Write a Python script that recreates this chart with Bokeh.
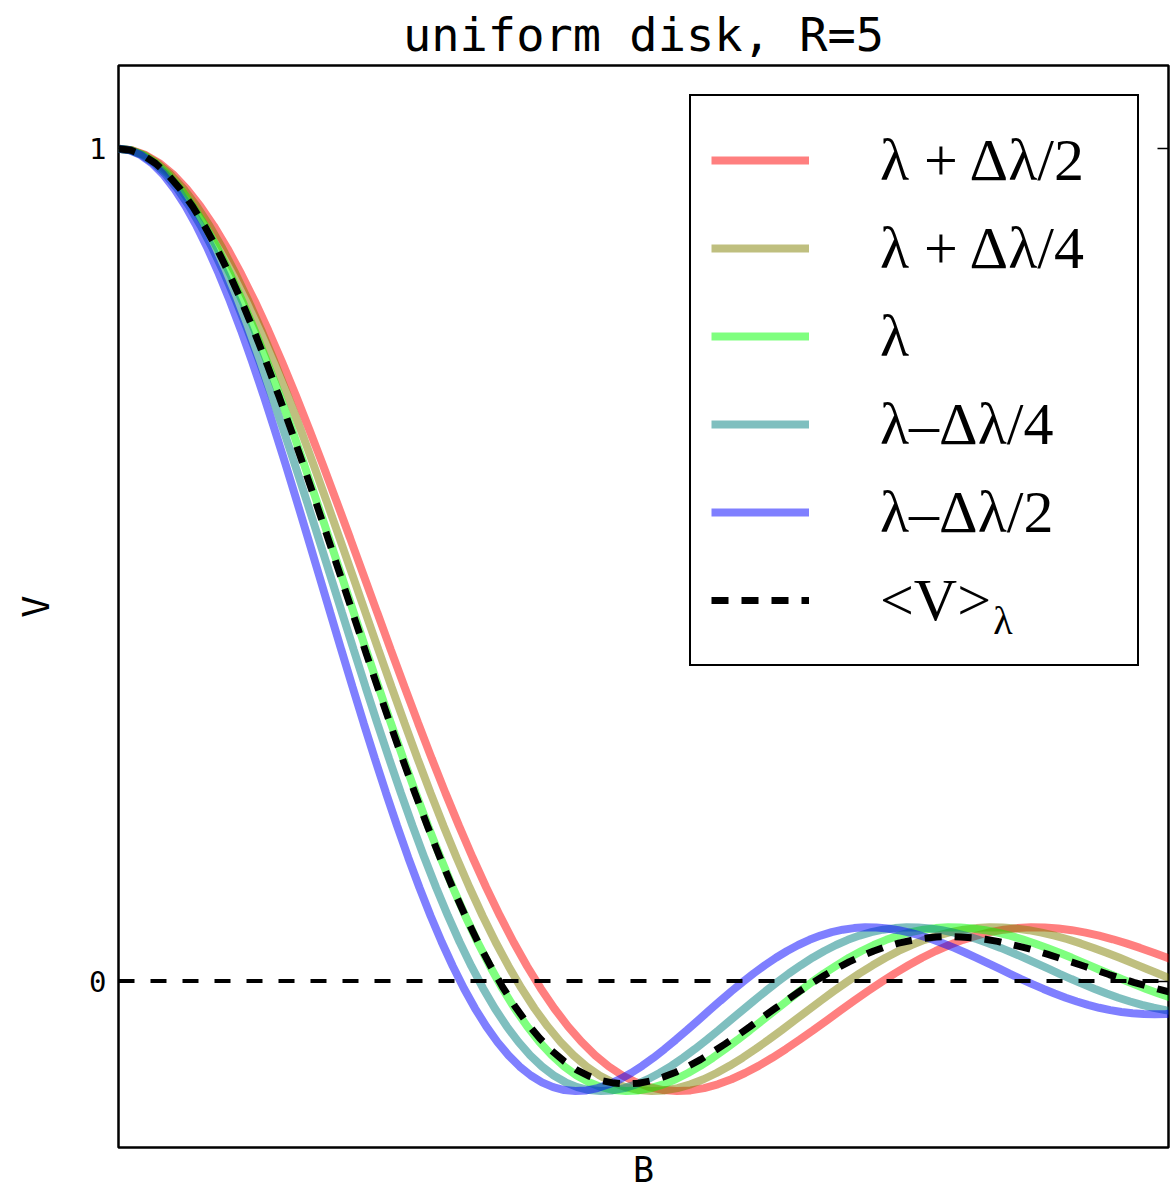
from bokeh.plotting import figure
from bokeh.models import (Range1d, LinearAxis, FixedTicker, Span, Legend,
                          LegendItem, Label)
from bokeh.embed import file_html
from bokeh.resources import INLINE

# ---- data ----
# visibility profile of the central wavelength, on its own baseline axis
profile_arg = [0.0, 0.125, 0.25, 0.375, 0.5, 0.625, 0.75, 0.875,
               1.0, 1.125, 1.25, 1.375, 1.5, 1.625, 1.75, 1.875,
               2.0, 2.125, 2.25, 2.375, 2.5, 2.625, 2.75, 2.875,
               3.0, 3.125, 3.25, 3.375, 3.5, 3.625, 3.75, 3.875,
               4.0, 4.125, 4.25, 4.375, 4.5, 4.625, 4.75, 4.875,
               5.0, 5.125, 5.25, 5.375, 5.5, 5.625, 5.75, 5.875,
               6.0, 6.125, 6.25, 6.375, 6.5, 6.625, 6.75, 6.875,
               7.0, 7.125, 7.25, 7.375, 7.5, 7.625, 7.75, 7.875,
               8.0, 8.125, 8.25, 8.375, 8.5, 8.625, 8.75, 8.875,
               9.0, 9.125, 9.25, 9.375, 9.5, 9.625, 9.75, 9.875,
               10.0, 10.125, 10.25, 10.375, 10.5, 10.625, 10.75, 10.875,
               11.0, 11.125, 11.25, 11.375, 11.5, 11.625, 11.75, 11.875,
               12.0]
v_profile = [1.0000, 0.9981, 0.9923, 0.9826, 0.9692, 0.9520, 0.9313, 0.9073,
             0.8801, 0.8499, 0.8170, 0.7816, 0.7439, 0.7043, 0.6630, 0.6204,
             0.5767, 0.5323, 0.4875, 0.4425, 0.3977, 0.3534, 0.3098, 0.2673,
             0.2261, 0.1864, 0.1484, 0.1124, 0.0785, 0.0469, 0.0178, -0.0089,
             -0.0330, -0.0544, -0.0732, -0.0893, -0.1027, -0.1135, -0.1217, -0.1275,
             -0.1310, -0.1322, -0.1314, -0.1286, -0.1241, -0.1180, -0.1105, -0.1019,
             -0.0922, -0.0817, -0.0706, -0.0591, -0.0473, -0.0355, -0.0238, -0.0123,
             -0.0013, 0.0092, 0.0189, 0.0280, 0.0361, 0.0433, 0.0495, 0.0546,
             0.0587, 0.0617, 0.0636, 0.0645, 0.0643, 0.0632, 0.0611, 0.0582,
             0.0545, 0.0502, 0.0452, 0.0398, 0.0340, 0.0279, 0.0215, 0.0151,
             0.0087, 0.0024, -0.0037, -0.0095, -0.0150, -0.0201, -0.0246, -0.0286,
             -0.0321, -0.0350, -0.0372, -0.0388, -0.0397, -0.0400, -0.0396, -0.0387,
             -0.0372]

series_labels = ["λ + Δλ/2", "λ + Δλ/4", "λ", "λ–Δλ/4", "λ–Δλ/2"]
wavelength_factor = [1.10, 1.05, 1.00, 0.95, 0.90]
series_colors = ["red", "olive", "lime", "teal", "blue"]

b_mean = [0.0, 0.125, 0.25, 0.375, 0.5, 0.625, 0.75, 0.875,
          1.0, 1.125, 1.25, 1.375, 1.5, 1.625, 1.75, 1.875,
          2.0, 2.125, 2.25, 2.375, 2.5, 2.625, 2.75, 2.875,
          3.0, 3.125, 3.25, 3.375, 3.5, 3.625, 3.75, 3.875,
          4.0, 4.125, 4.25, 4.375, 4.5, 4.625, 4.75, 4.875,
          5.0, 5.125, 5.25, 5.375, 5.5, 5.625, 5.75, 5.875,
          6.0, 6.125, 6.25, 6.375, 6.5, 6.625, 6.75, 6.875,
          7.0, 7.125, 7.25, 7.375, 7.5, 7.625, 7.75, 7.875,
          8.0, 8.125, 8.25, 8.375, 8.5, 8.625, 8.75, 8.875,
          9.0, 9.125, 9.25, 9.375, 9.5, 9.625, 9.75, 9.875,
          10.0, 10.125, 10.25, 10.375, 10.5, 10.625]
v_mean = [1.0000, 0.9981, 0.9922, 0.9823, 0.9687, 0.9512, 0.9303, 0.9060,
          0.8785, 0.8479, 0.8147, 0.7789, 0.7409, 0.7010, 0.6595, 0.6166,
          0.5727, 0.5283, 0.4835, 0.4385, 0.3937, 0.3497, 0.3064, 0.2643,
          0.2234, 0.1843, 0.1470, 0.1116, 0.0784, 0.0476, 0.0193, -0.0066,
          -0.0299, -0.0505, -0.0685, -0.0838, -0.0964, -0.1067, -0.1143, -0.1196,
          -0.1226, -0.1237, -0.1228, -0.1199, -0.1153, -0.1096, -0.1025, -0.0944,
          -0.0851, -0.0755, -0.0653, -0.0547, -0.0438, -0.0332, -0.0227, -0.0124,
          -0.0026, 0.0067, 0.0151, 0.0230, 0.0299, 0.0361, 0.0414, 0.0455,
          0.0487, 0.0513, 0.0528, 0.0534, 0.0528, 0.0520, 0.0502, 0.0476,
          0.0442, 0.0408, 0.0368, 0.0323, 0.0275, 0.0228, 0.0178, 0.0128,
          0.0078, 0.0030, -0.0015, -0.0058, -0.0098, -0.0136]

y_ticks = [0, 1]

MONO = "DejaVu Sans Mono"
SERIF = "Liberation Serif"

p = figure(width=1170, height=1193,
           x_range=Range1d(0, 10.6), y_range=Range1d(-0.2, 1.1),
           output_backend="svg", toolbar_location=None,
           min_border_left=118, min_border_right=2,
           min_border_top=65, min_border_bottom=46,
           title="uniform disk, R=5")

p.title.text_font = MONO
p.title.text_font_size = "47px"
p.title.text_font_style = "normal"
p.title.text_color = "black"
p.title.align = "center"
p.title.standoff = 8

p.xgrid.visible = False
p.ygrid.visible = False
p.outline_line_color = "black"
p.outline_line_width = 2.5
p.outline_line_alpha = 1.0
p.background_fill_color = "white"

p.xaxis.ticker = FixedTicker(ticks=[])
p.xaxis.axis_label = "B"
p.xaxis.axis_line_color = None
p.xaxis.major_tick_line_color = None
p.xaxis.major_label_standoff = 0
p.xaxis.axis_label_standoff = 2
p.xaxis.axis_label_text_font = MONO
p.xaxis.axis_label_text_font_size = "35px"
p.xaxis.axis_label_text_font_style = "normal"
p.xaxis.axis_label_text_color = "black"

p.yaxis.ticker = FixedTicker(ticks=y_ticks)
p.yaxis.axis_label = "V"
p.yaxis.axis_line_color = None
p.yaxis.major_tick_in = 11
p.yaxis.major_tick_out = 0
p.yaxis.major_tick_line_width = 1.5
p.yaxis.major_tick_line_color = "black"
p.yaxis.major_label_standoff = 12
p.yaxis.major_label_text_font = MONO
p.yaxis.major_label_text_font_size = "29px"
p.yaxis.major_label_text_color = "black"
p.yaxis.axis_label_standoff = 28
p.yaxis.axis_label_text_font = MONO
p.yaxis.axis_label_text_font_size = "37px"
p.yaxis.axis_label_text_font_style = "normal"
p.yaxis.axis_label_text_color = "black"

right_axis = LinearAxis(ticker=FixedTicker(ticks=y_ticks),
                        axis_line_color=None, major_tick_in=11, major_tick_out=0,
                        major_tick_line_width=1.5, major_tick_line_color="black",
                        major_label_overrides={0: "", 1: ""},
                        major_label_standoff=0, major_label_text_font_size="0px")
p.add_layout(right_axis, "right")

items = []
for lab, fac, col in zip(series_labels, wavelength_factor, series_colors):
    b_vals = [a * fac for a in profile_arg]
    r = p.line(b_vals, v_profile, line_color=col, line_alpha=0.5, line_width=8)
    items.append(LegendItem(label=lab, renderers=[r]))

r_mean = p.line(b_mean, v_mean, line_color="black", line_width=7, line_dash="17 13")
items.append(LegendItem(label="<V>", renderers=[r_mean]))

p.add_layout(Span(location=0, dimension="width", line_color="black",
                  line_width=4, line_dash="16 16"))

# subscript of the last legend entry
p.add_layout(Label(x=8.83, y=0.433, text="λ", text_font=SERIF,
                   text_font_size="40px", text_baseline="middle",
                   text_color="black"))

legend = Legend(items=items, location="top_right")
legend.margin = 29
legend.padding = 20
legend.spacing = 0
legend.glyph_width = 98
legend.glyph_height = 88
legend.label_height = 88
legend.label_width = 237
legend.label_standoff = 71
legend.label_text_font = SERIF
legend.label_text_font_size = "60px"
legend.label_text_color = "black"
legend.border_line_color = "black"
legend.border_line_width = 2
legend.border_line_alpha = 1.0
legend.background_fill_alpha = 0.0
p.add_layout(legend)

open("out.html", "w").write(file_html(p, INLINE))
